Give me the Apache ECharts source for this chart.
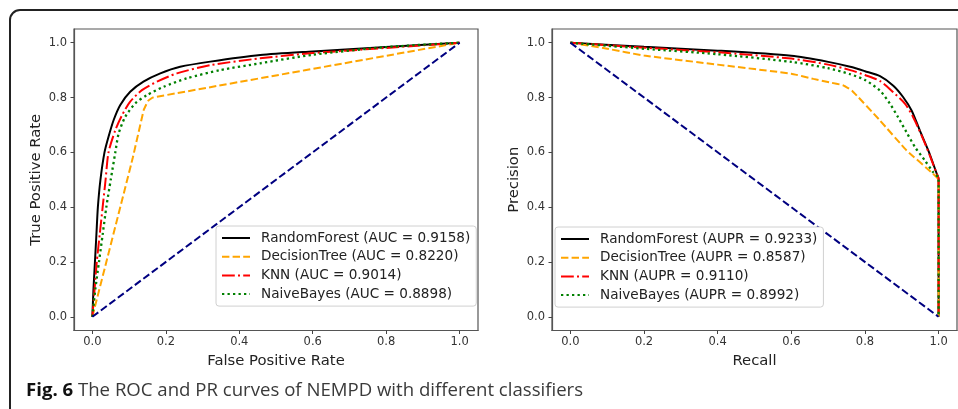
<!DOCTYPE html>
<html>
<head>
<meta charset="utf-8">
<script src="https://cdn.jsdelivr.net/npm/echarts@6/dist/echarts.min.js"></script>
<style>
  * { margin: 0; padding: 0; }
  body { background: #fff; }
  #chart { width: 958px; height: 409px; }
</style>
</head>
<body>
<div id="chart"></div>
<script>
// classifiers, same order in both panels
const models = ['RandomForest', 'DecisionTree', 'KNN', 'NaiveBayes']
const aucValues = [0.9158, 0.8220, 0.9014, 0.8898]
const auprValues = [0.9233, 0.8587, 0.9110, 0.8992]
const tickValues = [0, 0.2, 0.4, 0.6, 0.8, 1.0]

// ROC curves [fpr, tpr]
const rocRF = [[0, 0], [0.003, 0.1], [0.007, 0.2], [0.011, 0.3], [0.015, 0.4], [0.022, 0.5], [0.033, 0.6],
  [0.044, 0.657], [0.058, 0.718], [0.076, 0.773], [0.103, 0.821], [0.139, 0.858], [0.185, 0.888],
  [0.239, 0.912], [0.321, 0.931], [0.457, 0.955], [0.6, 0.968], [0.8, 0.984], [1, 1]]
const rocDT = [[0, 0], [0.11, 0.58], [0.14, 0.755], [0.152, 0.788], [0.165, 0.8], [1, 1]]
const rocKNN = [[0, 0], [0.006, 0.1], [0.012, 0.2], [0.02, 0.3], [0.028, 0.4], [0.036, 0.5], [0.044, 0.6],
  [0.0625, 0.681], [0.081, 0.736], [0.103, 0.785], [0.135, 0.827], [0.176, 0.858], [0.23, 0.888],
  [0.321, 0.918], [0.457, 0.943], [0.6, 0.962], [0.8, 0.981], [1, 1]]
const rocNB = [[0, 0], [0.008, 0.1], [0.018, 0.2], [0.028, 0.3], [0.038, 0.4], [0.05, 0.5], [0.0625, 0.6],
  [0.0716, 0.669], [0.0897, 0.73], [0.117, 0.779], [0.149, 0.809], [0.194, 0.839], [0.257, 0.87],
  [0.348, 0.9], [0.457, 0.925], [0.6, 0.956], [0.8, 0.984], [1, 1]]
const rocChance = [[0, 0], [1, 1]]

// PR curves [recall, precision]
const prRF = [[0, 1], [0.2, 0.985], [0.4, 0.971], [0.6, 0.952], [0.7, 0.93], [0.76, 0.912], [0.8, 0.896],
  [0.841, 0.878], [0.877, 0.843], [0.904, 0.801], [0.927, 0.752], [0.949, 0.68], [0.972, 0.607],
  [0.995, 0.522], [1, 0.504], [1, 0]]
const prDT = [[0, 1], [0.1, 0.978], [0.2, 0.953], [0.4, 0.92], [0.6, 0.887], [0.66, 0.868], [0.705, 0.855],
  [0.74, 0.845], [0.765, 0.825], [0.841, 0.716], [0.913, 0.607], [0.985, 0.522], [1, 0.5], [1, 0]]
const prKNN = [[0, 1], [0.2, 0.982], [0.4, 0.965], [0.6, 0.942], [0.7, 0.92], [0.76, 0.9], [0.8, 0.882],
  [0.841, 0.86], [0.877, 0.819], [0.909, 0.777], [0.931, 0.728], [0.954, 0.661], [0.976, 0.589],
  [0.995, 0.522], [1, 0.504], [1, 0]]
const prNB = [[0, 1], [0.2, 0.978], [0.4, 0.958], [0.6, 0.93], [0.7, 0.907], [0.76, 0.885], [0.8, 0.864],
  [0.841, 0.825], [0.868, 0.777], [0.89, 0.728], [0.913, 0.673], [0.936, 0.619], [0.963, 0.57],
  [0.985, 0.528], [1, 0.504], [1, 0]]
const prChance = [[0, 1], [1, 0]]

const colors = ['#000000', '#ffa500', '#ff0000', '#008000']
const dashes = ['solid', [7.4, 3.2], [12.8, 3.2, 2, 3.2], [2.3, 3.2]]
const widths = [2, 2, 2, 2.3]
const rocData = [rocRF, rocDT, rocKNN, rocNB]
const prData = [prRF, prDT, prKNN, prNB]

const rocNames = models.map((m, i) => m + ' (AUC = ' + aucValues[i].toFixed(4) + ')')
const prNames = models.map((m, i) => m + ' (AUPR = ' + auprValues[i].toFixed(4) + ')')

const font = 'DejaVu Sans'

const makeAxis = (idx, name, gap, isY) => ({
  gridIndex: idx,
  type: 'value',
  min: -0.05,
  max: 1.05,
  name: name,
  nameLocation: 'middle',
  nameGap: gap,
  nameTextStyle: { fontFamily: font, fontSize: 14.8, color: '#222' },
  axisLine: { show: true, onZero: false, lineStyle: { color: '#555', width: 1.2 } },
  axisTick: { show: true, customValues: tickValues, length: 3.5, lineStyle: { color: '#444' } },
  axisLabel: {
    customValues: tickValues,
    formatter: v => v.toFixed(1),
    fontFamily: font,
    fontSize: 11.5,
    color: '#333',
    margin: isY ? 7 : 6
  },
  splitLine: { show: false }
})

const lineSeries = (names, data, axisIdx) => names.map((n, i) => ({
  name: n,
  type: 'line',
  xAxisIndex: axisIdx,
  yAxisIndex: axisIdx,
  data: data[i],
  symbol: 'none',
  smooth: i === 1 ? 0.1 : 0.25,
  color: colors[i],
  lineStyle: { color: colors[i], width: widths[i], type: dashes[i], cap: 'butt' }
}))

const chanceSeries = (data, axisIdx) => ({
  type: 'line',
  xAxisIndex: axisIdx,
  yAxisIndex: axisIdx,
  data: data,
  symbol: 'none',
  silent: true,
  lineStyle: { color: '#000080', width: 2, type: [7.4, 3.2] }
})

const legendBox = (names, left, top) => ({
  data: names,
  orient: 'vertical',
  left: left,
  top: top,
  itemWidth: 28,
  itemHeight: 14,
  itemGap: 4.7,
  padding: [5, 6, 5, 5],
  backgroundColor: '#fff',
  borderColor: '#d0d0d0',
  borderWidth: 1,
  borderRadius: 3,
  selectedMode: false,
  itemStyle: { opacity: 0 },
  textStyle: { fontFamily: font, fontSize: 13.6, color: '#222', padding: [0, 0, 0, 6] }
})

const chart = echarts.init(document.getElementById('chart'), null, { renderer: 'canvas' })

chart.setOption({
  animation: false,
  backgroundColor: '#fff',
  title: {
    text: '{b|Fig. 6} The ROC and PR curves of NEMPD with different classifiers',
    left: 26,
    top: 381,
    padding: 0,
    textStyle: {
      fontFamily: 'Open Sans',
      fontSize: 18.6,
      fontWeight: 'normal',
      color: '#3a3a3a',
      rich: {
        b: { fontFamily: 'Open Sans', fontSize: 18.6, fontWeight: 'bold', color: '#111' }
      }
    }
  },
  graphic: [
    {
      type: 'rect',
      z: -1,
      shape: { x: 10, y: 10, width: 1000, height: 600, r: 10 },
      style: { fill: 'none', stroke: '#222', lineWidth: 2 }
    }
  ],
  grid: [
    { left: 74, top: 29, width: 404, height: 301.5, show: true, borderColor: '#555', borderWidth: 1.2, backgroundColor: '#fff', outerBoundsMode: 'none' },
    { left: 552, top: 29, width: 405, height: 301.5, show: true, borderColor: '#555', borderWidth: 1.2, backgroundColor: '#fff', outerBoundsMode: 'none' }
  ],
  xAxis: [
    makeAxis(0, 'False Positive Rate', 21, false),
    makeAxis(1, 'Recall', 21, false)
  ],
  yAxis: [
    makeAxis(0, 'True Positive Rate', 30, true),
    makeAxis(1, 'Precision', 30, true)
  ],
  legend: [
    legendBox(rocNames, 216, 226),
    legendBox(prNames, 555, 227)
  ],
  series: [
    ...lineSeries(rocNames, rocData, 0),
    chanceSeries(rocChance, 0),
    ...lineSeries(prNames, prData, 1),
    chanceSeries(prChance, 1)
  ]
})
</script>
</body>
</html>
